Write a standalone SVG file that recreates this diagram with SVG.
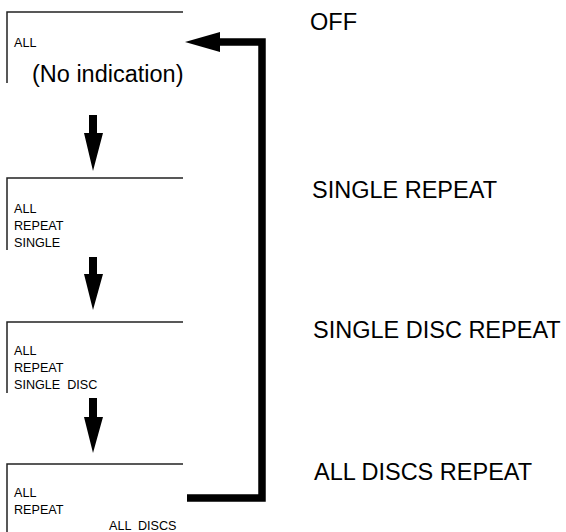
<svg xmlns="http://www.w3.org/2000/svg" width="566" height="532" viewBox="0 0 566 532">
<style>
.frame{fill:none;stroke:#222;stroke-width:1.5}
.sm{font-family:"Liberation Sans",Arial,sans-serif;font-size:12.6px;fill:#000;white-space:pre}
.lg{font-family:"Liberation Sans",Arial,sans-serif;font-size:23.5px;fill:#000}
.arr{fill:#000}
.loop{fill:none;stroke:#000;stroke-width:7.5;stroke-linejoin:miter}
</style>
<rect width="566" height="532" fill="#fff"/>
<g id="node-off">
<path class="frame" d="M7,83 V12 H183"/>
<text class="sm" x="14" y="47">ALL</text>
<text class="lg" x="32" y="82">(No indication)</text>
</g>
<g id="node-single">
<path class="frame" d="M7,250 V178 H183"/>
<text class="sm" x="14" y="213">ALL</text>
<text class="sm" x="14" y="230">REPEAT</text>
<text class="sm" x="14" y="247">SINGLE</text>
</g>
<g id="node-single-disc">
<path class="frame" d="M7,393 V322 H183"/>
<text class="sm" x="14" y="355">ALL</text>
<text class="sm" x="14" y="372">REPEAT</text>
<text class="sm" x="14" y="389" xml:space="preserve">SINGLE  DISC</text>
</g>
<g id="node-all-discs">
<path class="frame" d="M7,532 V464 H183"/>
<text class="sm" x="14" y="497">ALL</text>
<text class="sm" x="14" y="514">REPEAT</text>
<text class="sm" x="109" y="530" xml:space="preserve">ALL  DISCS</text>
</g>
<g id="labels">
<text class="lg" x="310" y="30">OFF</text>
<text class="lg" x="312" y="198">SINGLE REPEAT</text>
<text class="lg" x="313" y="338">SINGLE DISC REPEAT</text>
<text class="lg" x="314" y="480">ALL DISCS REPEAT</text>
</g>
<g id="connectors">
<path class="arr" d="M89,115 H97 V133 H103 L93,171 L84,133 H89 Z"/>
<path class="arr" d="M89,257 H97 V274 H103 L93,310 L84,274 H89 Z"/>
<path class="arr" d="M89,398 H97 V417 H103 L93,453 L84,417 H89 Z"/>
<path class="loop" d="M187,498 H262 V42 H218"/>
<path class="arr" d="M220,32 L220,52 L185,42 Z"/>
</g>
</svg>
